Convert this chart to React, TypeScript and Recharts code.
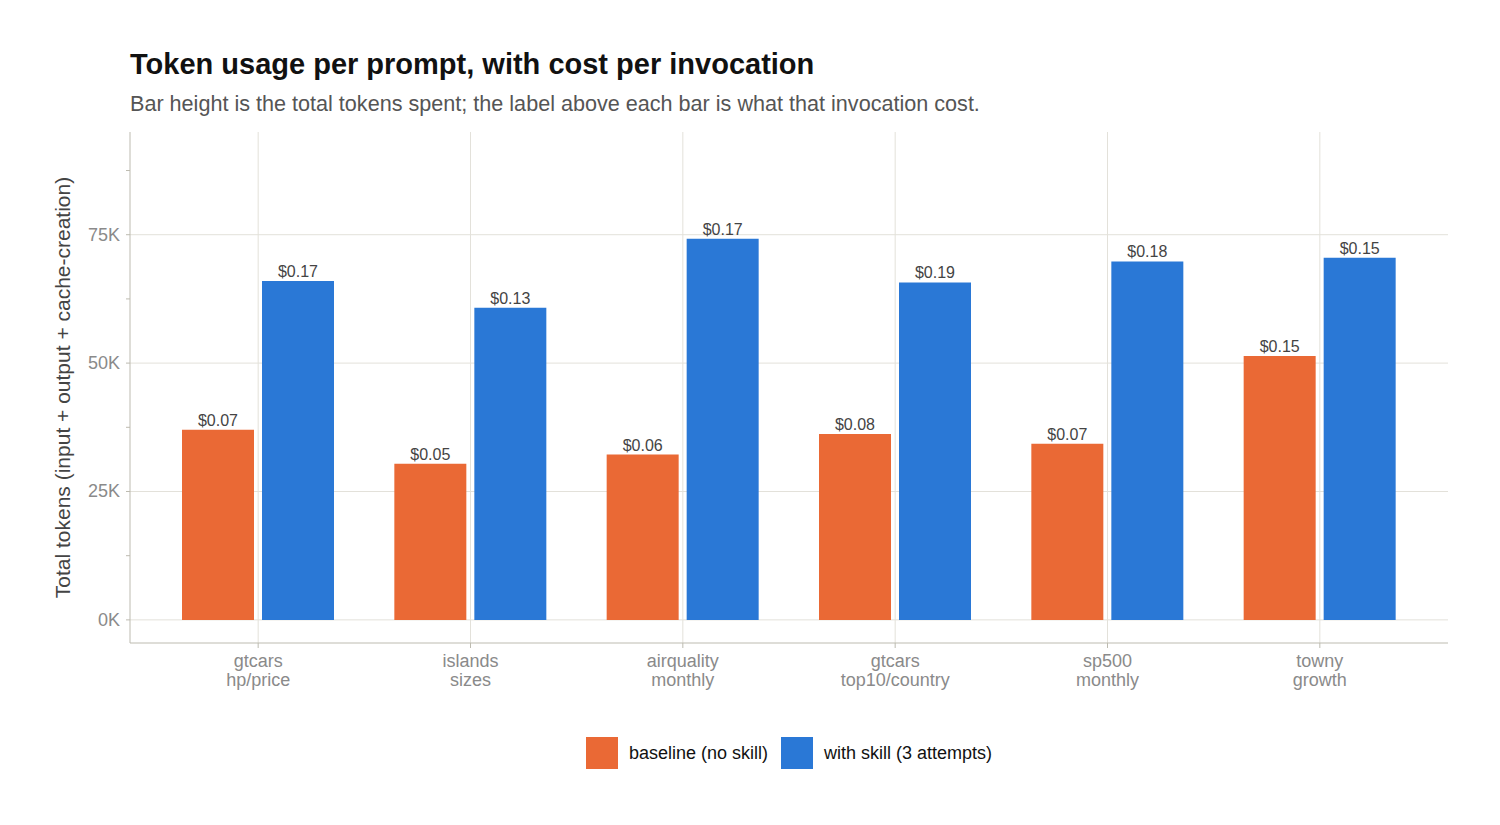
import { BarChart, Bar, XAxis, YAxis, CartesianGrid, LabelList } from "recharts";

const prompts = [
  "gtcars\nhp/price",
  "islands\nsizes",
  "airquality\nmonthly",
  "gtcars\ntop10/country",
  "sp500\nmonthly",
  "towny\ngrowth",
];
const baselineTokens = [37000, 30400, 32200, 36200, 34300, 51400];
const skillTokens = [66000, 60800, 74200, 65700, 69800, 70500];
const baselineCost = [0.07, 0.05, 0.06, 0.08, 0.07, 0.15];
const skillCost = [0.17, 0.13, 0.17, 0.19, 0.18, 0.15];
const yTicks = [0, 12500, 25000, 37500, 50000, 62500, 75000, 87500];

const ORANGE = "#EA6935";
const BLUE = "#2A78D6";
const GRID = "#E3E1DA";
const AXIS = "#BDBBB0";
const FONT = "'Liberation Sans', Arial, Helvetica, sans-serif";

const data = prompts.map((p, i) => ({
  prompt: p,
  baseline: baselineTokens[i],
  skill: skillTokens[i],
  baselineCost: baselineCost[i],
  skillCost: skillCost[i],
}));

function YTick(props: any) {
  const { x, y, payload } = props;
  if (payload.value % 25000 !== 0) return null;
  return (
    <text x={x} y={y} dy={6} textAnchor="end" fill="#8a8a8a" fontSize={18} fontFamily={FONT}>
      {`${payload.value / 1000}K`}
    </text>
  );
}

function XTick(props: any) {
  const { x, y, payload } = props;
  const lines = String(payload.value).split("\n");
  return (
    <text x={x} y={y} textAnchor="middle" fill="#8a8a8a" fontSize={18} fontFamily={FONT}>
      {lines.map((l, i) => (
        <tspan key={i} x={x} dy={i === 0 ? 17 : 19}>
          {l}
        </tspan>
      ))}
    </text>
  );
}

const costLabel = (v: any) => `$${Number(v).toFixed(2)}`;

export default function App() {
  return (
    <div style={{ position: "absolute", left: 0, top: 0, width: 1500, height: 825, background: "#fff", fontFamily: FONT }}>
      <div style={{ position: "absolute", left: 130, top: 48, fontSize: 29, fontWeight: 700, color: "#111", whiteSpace: "nowrap" }}>
        Token usage per prompt, with cost per invocation
      </div>
      <div style={{ position: "absolute", left: 130, top: 91, fontSize: 21.6, color: "#555", whiteSpace: "nowrap" }}>
        Bar height is the total tokens spent; the label above each bar is what that invocation cost.
      </div>
      <div style={{ position: "absolute", left: 0, top: 0 }}>
        <BarChart
          width={1500}
          height={825}
          data={data}
          margin={{ top: 132, right: 52, left: 0, bottom: 122 }}
          barSize={72}
          barGap={8}
        >
          <CartesianGrid stroke={GRID} horizontalValues={[0, 25000, 50000, 75000]} verticalValues={prompts} />
          <XAxis
            dataKey="prompt"
            height={60}
            padding={{ left: 22, right: 22 }}
            stroke={AXIS}
            tickSize={5}
            tick={<XTick />}
            interval={0}
          />
          <YAxis
            type="number"
            width={130}
            domain={[-4500, 95000]}
            ticks={yTicks}
            stroke={AXIS}
            tickSize={4}
            tickMargin={6}
            tick={<YTick />}
            interval={0}
            label={{
              content: ({ viewBox }: any) => (
                <text
                  x={62}
                  y={viewBox.y + viewBox.height / 2}
                  transform={`rotate(-90 62 ${viewBox.y + viewBox.height / 2})`}
                  textAnchor="middle"
                  dominantBaseline="central"
                  fill="#444"
                  fontSize={21}
                  fontFamily={FONT}
                >
                  Total tokens (input + output + cache-creation)
                </text>
              ),
            }}
          />
          <Bar dataKey="baseline" fill={ORANGE} isAnimationActive={false}>
            <LabelList dataKey="baselineCost" position="top" offset={4} formatter={costLabel} fill="#444" fontSize={16} fontFamily={FONT} />
          </Bar>
          <Bar dataKey="skill" fill={BLUE} isAnimationActive={false}>
            <LabelList dataKey="skillCost" position="top" offset={4} formatter={costLabel} fill="#444" fontSize={16} fontFamily={FONT} />
          </Bar>
        </BarChart>
      </div>
      <div style={{ position: "absolute", left: 130, width: 1318, top: 737, display: "flex", justifyContent: "center", alignItems: "center", fontSize: 18, color: "#111" }}>
        <span style={{ width: 32, height: 32, background: ORANGE, display: "inline-block" }} />
        <span style={{ marginLeft: 11, marginRight: 13 }}>baseline (no skill)</span>
        <span style={{ width: 32, height: 32, background: BLUE, display: "inline-block" }} />
        <span style={{ marginLeft: 11 }}>with skill (3 attempts)</span>
      </div>
    </div>
  );
}
